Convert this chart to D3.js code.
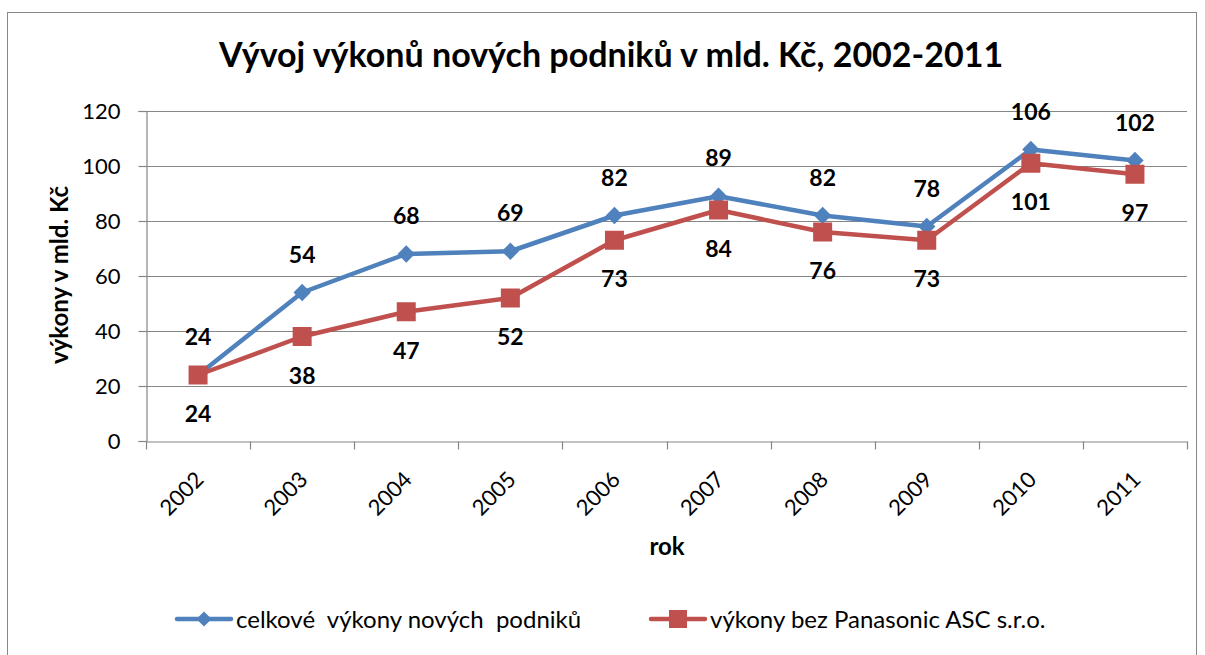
<!DOCTYPE html>
<html lang="cs">
<head>
    <meta charset="UTF-8">
    <script src="https://d3js.org/d3.v7.min.js"></script>
    <style>
        body { margin: 0; background: #fff; }
        text { font-family: Lato, "Open Sans", sans-serif; fill: #000; white-space: pre; }
    </style>
    <title>Vývoj výkonů nových podniků</title>
</head>
<body>
    <script type="text/javascript">
    // data
    const years = ["2002", "2003", "2004", "2005", "2006", "2007", "2008", "2009", "2010", "2011"];
    const celkove = [24, 54, 68, 69, 82, 89, 82, 78, 106, 102];
    const bezPanasonic = [24, 38, 47, 52, 73, 84, 76, 73, 101, 97];
    const yTicks = [0, 20, 40, 60, 80, 100, 120];
    const seriesNames = ["celkové  výkony nových  podniků", "výkony bez Panasonic ASC s.r.o."];

    const w = 1205, h = 655;
    const plotLeft = 146, plotRight = 1187, plotTop = 111, plotBottom = 441;
    const blue = "#4F81BD", red = "#C0504D", grid = "#868686";

    const svg = d3.select("body").append("svg")
        .attr("width", w).attr("height", h);

    // ramecek grafu
    svg.append("rect")
        .attr("x", 7.5).attr("y", 12.5)
        .attr("width", 1189).attr("height", 660)
        .attr("fill", "none").attr("stroke", "#888").attr("stroke-width", 1);

    const x = d3.scaleBand().domain(years).range([plotLeft, plotRight]);
    const y = d3.scaleLinear().domain([0, 120]).range([plotBottom, plotTop]);

    // mrizka
    svg.append("g").selectAll("line")
        .data(yTicks.filter(d => d > 0))
        .enter().append("line")
        .attr("x1", plotLeft).attr("x2", plotRight)
        .attr("y1", d => Math.round(y(d)) + 0.5).attr("y2", d => Math.round(y(d)) + 0.5)
        .attr("stroke", grid).attr("stroke-width", 1.2);

    // osa y
    const yAxis = svg.append("g")
        .attr("transform", "translate(" + (plotLeft + 0.5) + ",0)")
        .call(d3.axisLeft(y).tickValues(yTicks).tickSize(8).tickPadding(18));
    yAxis.select(".domain").attr("stroke", grid).attr("stroke-width", 1.2);
    yAxis.selectAll(".tick line").attr("stroke", grid).attr("stroke-width", 1.2);
    yAxis.selectAll("text").attr("font-size", "22px").attr("font-family", "Lato, sans-serif");

    // osa x
    const xAxis = svg.append("g")
        .attr("transform", "translate(0," + (plotBottom + 0.5) + ")")
        .call(d3.axisBottom(x).tickSize(0).tickFormat(""));
    xAxis.select(".domain").attr("stroke", grid).attr("stroke-width", 1.2);
    const tickPos = years.map(d => x(d)).concat([plotRight]);
    xAxis.selectAll(".xtick").data(tickPos).enter().append("line")
        .attr("x1", d => Math.round(d) + 0.5).attr("x2", d => Math.round(d) + 0.5)
        .attr("y1", 0).attr("y2", 8)
        .attr("stroke", grid).attr("stroke-width", 1.2);

    svg.append("g").selectAll("text")
        .data(years).enter().append("text")
        .attr("transform", d => "translate(" + (x(d) + x.bandwidth() / 2 + 7) + "," + (plotBottom + 40) + ") rotate(-45)")
        .attr("text-anchor", "end")
        .attr("font-size", "22px")
        .text(d => d);

    // popisky os
    svg.append("text")
        .attr("x", 667).attr("y", 555)
        .attr("text-anchor", "middle")
        .attr("font-size", "24px").attr("font-weight", "bold")
        .text("rok");
    svg.append("text")
        .attr("transform", "translate(68,275) rotate(-90)")
        .attr("text-anchor", "middle")
        .attr("font-size", "24px").attr("font-weight", "bold")
        .text("výkony v mld. Kč");

    // titulek
    svg.append("text")
        .attr("x", 611).attr("y", 67)
        .attr("text-anchor", "middle")
        .attr("font-size", "34px").attr("font-weight", "bold")
        .text("Vývoj výkonů nových podniků v mld. Kč, 2002-2011");

    const cx = d => x(d) + x.bandwidth() / 2;
    const line = d3.line().x((d, i) => cx(years[i])).y(d => y(d));

    const diamond = d3.symbol().type(d3.symbolSquare).size(150);

    function drawSeries(values, color, shape) {
        svg.append("path").datum(values)
            .attr("d", line)
            .attr("fill", "none").attr("stroke", color)
            .attr("stroke-width", 4.5).attr("stroke-linejoin", "round");
        const g = svg.append("g");
        if (shape === "diamond") {
            g.selectAll("path").data(values).enter().append("path")
                .attr("d", diamond)
                .attr("transform", (d, i) => "translate(" + cx(years[i]) + "," + y(d) + ") rotate(45)")
                .attr("fill", color);
        } else {
            g.selectAll("rect").data(values).enter().append("rect")
                .attr("x", (d, i) => cx(years[i]) - 9.5).attr("y", d => y(d) - 9.5)
                .attr("width", 19).attr("height", 19)
                .attr("fill", color);
        }
    }

    function drawLabels(values, labelDy) {
        svg.append("g").selectAll("text").data(values).enter().append("text")
            .attr("x", (d, i) => cx(years[i]))
            .attr("y", d => y(d) + labelDy)
            .attr("text-anchor", "middle")
            .attr("font-size", "23px").attr("font-weight", "bold")
            .text(d => d);
    }

    drawSeries(celkove, blue, "diamond");
    drawSeries(bezPanasonic, red, "square");
    drawLabels(celkove, -30);
    drawLabels(bezPanasonic, 47);

    // legenda
    const legend = [
        { name: seriesNames[0], color: blue, shape: "diamond", x: 177 },
        { name: seriesNames[1], color: red, shape: "square", x: 651 }
    ];
    const legendSym = d3.symbol().type(d3.symbolSquare).size(115);
    const lg = svg.append("g");
    legend.forEach(l => {
        lg.append("line")
            .attr("x1", l.x).attr("x2", l.x + 54)
            .attr("y1", 619).attr("y2", 619)
            .attr("stroke", l.color).attr("stroke-width", 4.5).attr("stroke-linecap", "round");
        if (l.shape === "diamond") {
            lg.append("path").attr("d", legendSym)
                .attr("transform", "translate(" + (l.x + 27) + ",619) rotate(45)")
                .attr("fill", l.color);
        } else {
            lg.append("rect")
                .attr("x", l.x + 18).attr("y", 610).attr("width", 18).attr("height", 18)
                .attr("fill", l.color);
        }
        lg.append("text")
            .attr("x", l.x + 59).attr("y", 628)
            .attr("font-size", "24px")
            .text(l.name);
    });
    </script>
</body>
</html>
